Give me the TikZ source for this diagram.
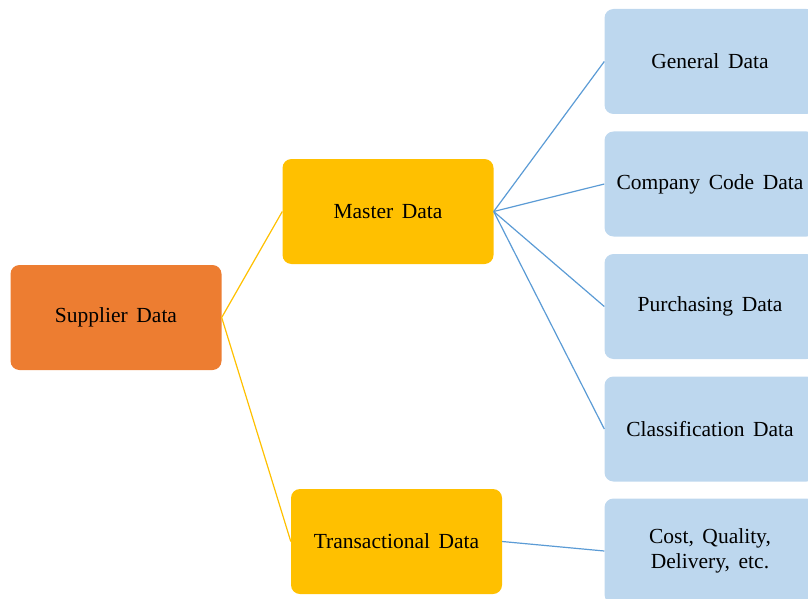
\documentclass[tikz,border=0pt]{standalone}
\usepackage{fontspec}
\setmainfont[WordSpace=1.6]{Liberation Serif}
\usetikzlibrary{positioning}

\definecolor{supplierorange}{HTML}{ED7D31}
\definecolor{mastergold}{HTML}{FFC000}
\definecolor{leafblue}{HTML}{BDD7EE}
\definecolor{linkblue}{HTML}{5B9BD5}

\begin{document}
\begin{tikzpicture}[x=1pt,y=-1pt,
        box/.style={rounded corners=9pt, minimum width=211pt, minimum height=105pt,
            align=center, font=\fontsize{21.5}{25}\selectfont},
        root/.style={box, fill=supplierorange},
        branch/.style={box, fill=mastergold},
        leaf/.style={box, fill=leafblue},
        goldlink/.style={draw=mastergold, line width=1.2pt},
        bluelink/.style={draw=linkblue, line width=1.2pt}]
        % page size
        \clip (0,0) rectangle (808,599);

        % root and the two branches
        \node [root] (supplier) at (116,317.5) {Supplier Data};
        \node [branch] (master) at (388,211.5) {Master Data};
        \node [branch] (trans) at (396.5,541.5) {Transactional Data};

        % leaves on the right
        \node [leaf] (general) at (710,61.5) {General Data};
        \node [leaf] (company) at (710,184) {Company Code Data};
        \node [leaf] (purchasing) at (710,306.5) {Purchasing Data};
        \node [leaf] (classif) at (710,429) {Classification Data};
        \node [leaf] (cost) at (710,551) {Cost, Quality,\\Delivery, etc.};

        % root to branches
        \draw [goldlink] (master.west) -- (supplier.east) -- (trans.west);

        % branches to leaves
        \foreach \leaf in {general,company,purchasing,classif}
            \draw [bluelink] (master.east) -- (\leaf.west);
        \draw [bluelink] (trans.east) -- (cost.west);
\end{tikzpicture}
\end{document}
